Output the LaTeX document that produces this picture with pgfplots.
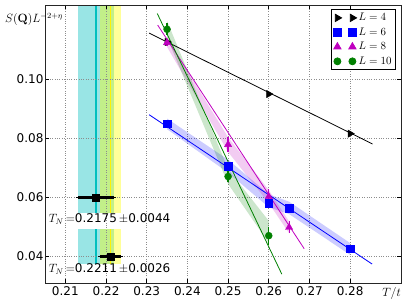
\documentclass[border=0pt]{standalone}
\usepackage{pgfplots}
\pgfplotsset{compat=1.18}
\usepackage[no-math]{fontspec}
\setmainfont{DejaVu Sans}
\definecolor{mg}{rgb}{0.75,0,0.75}
\definecolor{gr}{rgb}{0,0.5,0}
\definecolor{cy}{rgb}{0,0.75,0.75}
\definecolor{cyband}{RGB}{153,229,229}
\definecolor{yeband}{RGB}{255,255,153}
\definecolor{ovband}{RGB}{194,239,137}
\pgfplotsset{set layers, twomarks/.style={legend image code/.code={\draw[##1,only marks] plot coordinates {(0pt,0pt) (15pt,0pt)};}}}
\begin{document}
\begin{tikzpicture}
\begin{axis}[
  scale only axis, width=356pt, height=278pt,
  xmin=0.205, xmax=0.2925, ymin=0.031, ymax=0.125,
  xtick={0.21,0.22,0.23,0.24,0.25,0.26,0.27,0.28},
  xticklabels={0.21,0.22,0.23,0.24,0.25,0.26,0.27,0.28},
  ytick={0.04,0.06,0.08,0.10},
  yticklabels={0.04,0.06,0.08,0.10},
  grid=major, grid style={black!45, dotted, line width=0.7pt},
  tick align=inside, major tick length=4pt,
  tick style={black, line width=0.6pt},
  tick label style={font=\fontsize{12}{14}\selectfont},
  yticklabel style={xshift=2pt},
  axis line style={line width=0.8pt, black!85},
  legend style={at={(rel axis cs:1,1)}, anchor=north east, xshift=-5pt, yshift=-4pt,
    draw=black, line width=0.8pt, font=\fontsize{11}{13}\selectfont, inner sep=2pt,
    row sep=1.5pt, legend cell align=left},
]
% vertical T_N bands (top segment)
\addplot[on layer=axis background, fill=cyband, draw=none, forget plot] coordinates {(0.2131,0.0548) (0.2185,0.0548) (0.2185,0.125) (0.2131,0.125)} -- cycle;
\addplot[on layer=axis background, fill=ovband, draw=none, forget plot] coordinates {(0.2185,0.0548) (0.2219,0.0548) (0.2219,0.125) (0.2185,0.125)} -- cycle;
\addplot[on layer=axis background, fill=yeband, draw=none, forget plot] coordinates {(0.2219,0.0548) (0.2237,0.0548) (0.2237,0.125) (0.2219,0.125)} -- cycle;
% bottom segment
\addplot[on layer=axis background, fill=cyband, draw=none, forget plot] coordinates {(0.2131,0.0374) (0.2185,0.0374) (0.2185,0.0493) (0.2131,0.0493)} -- cycle;
\addplot[on layer=axis background, fill=ovband, draw=none, forget plot] coordinates {(0.2185,0.0374) (0.2219,0.0374) (0.2219,0.0493) (0.2185,0.0493)} -- cycle;
\addplot[on layer=axis background, fill=yeband, draw=none, forget plot] coordinates {(0.2219,0.0374) (0.2237,0.0374) (0.2237,0.0493) (0.2219,0.0493)} -- cycle;
% centre lines
\addplot[on layer=axis background, cy, line width=1.4pt, forget plot] coordinates {(0.2175,0.0548) (0.2175,0.125)};
\addplot[on layer=axis background, cy, line width=1.4pt, forget plot] coordinates {(0.2175,0.0374) (0.2175,0.0493)};
\addplot[on layer=axis background, yellow, line width=1.4pt, forget plot] coordinates {(0.2211,0.0548) (0.2211,0.125)};
\addplot[on layer=axis background, yellow, line width=1.4pt, forget plot] coordinates {(0.2211,0.0374) (0.2211,0.0493)};
% T_N estimates
\addplot[only marks, mark=square*, mark size=3.5pt, black, forget plot,
  error bars/.cd, x dir=both, x explicit, error bar style={line width=2.8pt, solid, black},
  error mark options={mark size=2pt, line width=1pt, solid}]
  coordinates {(0.2175,0.06) +- (0.0044,0) (0.2211,0.04) +- (0.0026,0)};
% data bands
\addplot[fill=blue, fill opacity=0.2, draw=none, forget plot] coordinates {
  (0.235,0.0866) (0.25,0.0727) (0.26,0.0610) (0.265,0.0585) (0.28,0.0445)
  (0.28,0.0405) (0.265,0.0543) (0.26,0.0566) (0.25,0.0683) (0.235,0.0830)} -- cycle;
\addplot[fill=mg, fill opacity=0.2, draw=none, forget plot] coordinates {
  (0.235,0.1138) (0.25,0.0803) (0.26,0.0624) (0.265,0.0518)
  (0.265,0.0478) (0.26,0.0580) (0.25,0.0753) (0.235,0.1108)} -- cycle;
\addplot[fill=gr, fill opacity=0.2, draw=none, forget plot] coordinates {
  (0.235,0.1196) (0.25,0.0695) (0.26,0.0520)
  (0.26,0.0445) (0.25,0.0645) (0.235,0.1140)} -- cycle;
% fit lines
\addplot[black, line width=0.8pt, forget plot] coordinates {(0.2306,0.1155) (0.2855,0.0780)};
\addplot[blue, line width=0.8pt, forget plot] coordinates {(0.2306,0.0879) (0.2854,0.0374)};
\addplot[mg, line width=0.8pt, forget plot] coordinates {(0.2327,0.1182) (0.2687,0.0426)};
\addplot[gr, line width=0.8pt, forget plot] coordinates {(0.2326,0.1221) (0.2632,0.0340)};
% data points
\addplot[twomarks, only marks, black, mark=triangle*, mark size=4.2pt, mark options={rotate=-90},
  error bars/.cd, y dir=both, y explicit, error bar style={line width=1pt}, error mark=none]
  coordinates {(0.235,0.1125) +- (0,0.0005) (0.26,0.0949) +- (0,0.0005) (0.28,0.0815) +- (0,0.0005)};
\addlegendentry{$L=4$}
\addplot[twomarks, only marks, blue, mark=square*, mark size=3.8pt,
  error bars/.cd, y dir=both, y explicit, error bar style={line width=1pt}, error mark=none]
  coordinates {(0.235,0.0848) +- (0,0.001) (0.25,0.0705) +- (0,0.001) (0.26,0.058) +- (0,0.001) (0.265,0.0563) +- (0,0.0008) (0.28,0.0426) +- (0,0.0008)};
\addlegendentry{$L=6$}
\addplot[twomarks, only marks, mg, mark=triangle*, mark size=4.2pt,
  error bars/.cd, y dir=both, y explicit, error bar style={line width=1.2pt}, error mark=none]
  coordinates {(0.235,0.1123) +- (0,0.001) (0.25,0.0778) +- (0,0.0025) (0.26,0.0602) +- (0,0.0025) (0.265,0.0498) +- (0,0.002)};
\addlegendentry{$L=8$}
\addplot[twomarks, only marks, gr, mark=*, mark size=3.5pt,
  error bars/.cd, y dir=both, y explicit, error bar style={line width=1.2pt}, error mark=none]
  coordinates {(0.235,0.1168) +- (0,0.002) (0.25,0.0670) +- (0,0.0018) (0.26,0.0470) +- (0,0.003)};
\addlegendentry{$L=10$}
\node[anchor=west, font=\fontsize{12}{14}\selectfont, inner sep=0pt] at (axis cs:0.2059,0.0526) {$T_N$\,$=$0.2175\,$\pm$0.0044};
\node[anchor=west, font=\fontsize{12}{14}\selectfont, inner sep=0pt] at (axis cs:0.2059,0.0356) {$T_N$\,$=$0.2211\,$\pm$0.0026};
\end{axis}
\node[anchor=west, font=\fontsize{12}{14}\selectfont, inner sep=0pt] at ([xshift=-40pt,yshift=-14.5pt]current axis.north west) {$S(\mathbf{Q})L^{-2+\eta}$};
\node[anchor=north east, font=\fontsize{12}{14}\selectfont, inner sep=0pt] at ([yshift=-4pt]current axis.south east) {$T/t$};
\pgfresetboundingbox
\path (current axis.south west) ++(-45pt,-24pt) rectangle ([shift={(6pt,5pt)}]current axis.north east);
\end{tikzpicture}
\end{document}
